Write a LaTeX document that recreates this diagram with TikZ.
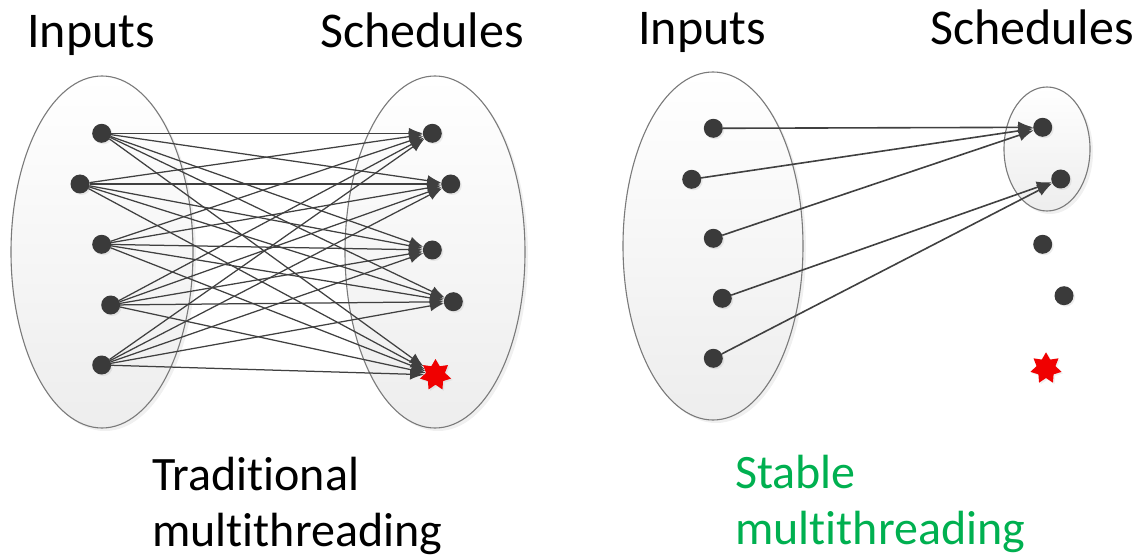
\documentclass[tikz,border=0pt]{standalone}
\usepackage{fontspec}
\setmainfont{Carlito}[Ligatures=NoCommon]
\usetikzlibrary{shapes.geometric,shadows,arrows.meta}
\definecolor{dotc}{HTML}{3A3A3A}
\definecolor{arrc}{HTML}{404040}
\definecolor{ellc}{HTML}{7A7A7A}
\definecolor{starred}{HTML}{F00000}
\definecolor{stablegreen}{HTML}{00B050}
\begin{document}
\begin{tikzpicture}[x=1pt,y=-1pt,
  setell/.style={ellipse, draw=ellc, line width=1.1pt, top color=white, bottom color=black!7,
    inner sep=0pt, outer sep=0pt,
    drop shadow={opacity=0.12, shadow xshift=3pt, shadow yshift=-3pt}},
  dotnode/.style={circle, fill=dotc, minimum size=19pt, inner sep=0pt, outer sep=0pt,
    drop shadow={opacity=0.15, shadow xshift=1.5pt, shadow yshift=-1.5pt}},
  badnode/.style={star, star points=7, star point ratio=1.65, fill=starred, minimum size=32pt,
    inner sep=0pt, outer sep=0pt,
    drop shadow={opacity=0.12, shadow xshift=1.5pt, shadow yshift=-1.5pt}},
  arr/.style={draw=arrc, line width=1.25pt, -{Latex[length=14pt,width=11pt]}},
  arrb/.style={draw=arrc, line width=1.6pt, -{Latex[length=15pt,width=12pt]}},
  lbl/.style={font=\fontsize{50}{56}\selectfont, inner sep=0pt, anchor=base west, align=left},
  captext/.style={font=\fontsize{48}{56}\selectfont, inner sep=0pt, anchor=base west, align=left}
]
\useasboundingbox (0,0) rectangle (1141,556);
% ---- left diagram
\node[setell, minimum width=182pt, minimum height=352pt] (LI) at (102,252) {};
\node[setell, minimum width=180pt, minimum height=352pt] (LS) at (435,252) {};
\node[dotnode] (a1) at (101.7,133.3) {};
\node[dotnode] (a2) at (80,184) {};
\node[dotnode] (a3) at (101.7,244.3) {};
\node[dotnode] (a4) at (110.7,305) {};
\node[dotnode] (a5) at (101.7,365) {};
\node[dotnode] (b1) at (432.3,133.3) {};
\node[dotnode] (b2) at (450.7,184) {};
\node[dotnode] (b3) at (432.3,250) {};
\node[dotnode] (b4) at (453.3,301.7) {};
\node[badnode] (b5) at (435.5,375) {};
\foreach \i in {1,...,5}{
  \foreach \j in {1,...,5}{
    \draw[arr] (a\i) -- (b\j);
  }
}
% ---- right diagram
\node[setell, minimum width=180pt, minimum height=348pt] (RI) at (713,246) {};
\node[setell, minimum width=86pt, minimum height=124pt] (RS) at (1047,149) {};
\node[dotnode] (c1) at (713.3,128.3) {};
\node[dotnode] (c2) at (691.7,179.3) {};
\node[dotnode] (c3) at (713.3,238.3) {};
\node[dotnode] (c4) at (722.3,298.3) {};
\node[dotnode] (c5) at (713.3,358.3) {};
\node[dotnode] (d1) at (1042.7,127.3) {};
\node[dotnode] (d2) at (1060.7,179) {};
\node[dotnode] (d3) at (1042.7,244.3) {};
\node[dotnode] (d4) at (1064,295.7) {};
\node[badnode] (d5) at (1046,368.3) {};
\draw[arrb] (c1) -- (d1);
\draw[arrb] (c2) -- (d1);
\draw[arrb] (c3) -- (d1);
\draw[arrb] (c4) -- (d2);
\draw[arrb] (c5) -- (d2);
% ---- labels
\node[lbl] (t1) at (27,48) {Inputs};
\node[lbl] (t2) at (320,48) {Schedules};
\node[lbl] (t3) at (638,45) {Inputs};
\node[lbl] (t4) at (930,45) {Schedules};
\node[captext] (t5) at (152,546) {Traditional\\multithreading};
\node[captext, text=stablegreen] (t6) at (735,544) {Stable\\multithreading};
\end{tikzpicture}
\end{document}
